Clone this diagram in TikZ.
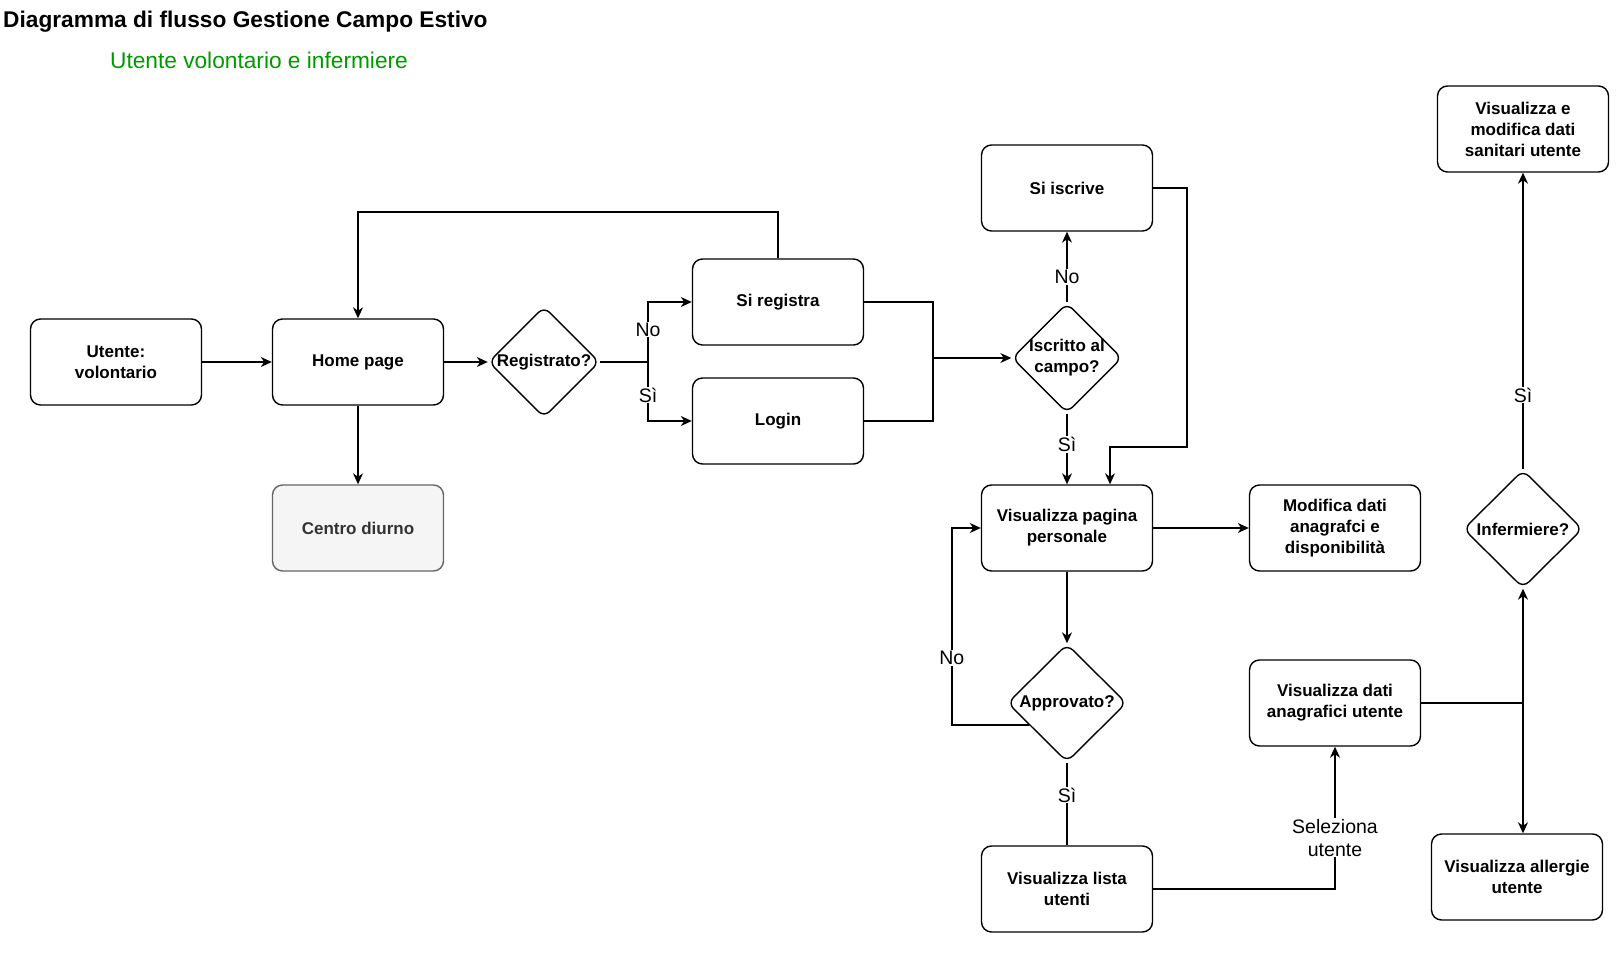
\documentclass[tikz,border=0pt]{standalone}
\usepackage{fontspec}
\setmainfont{Liberation Sans}
\usepackage{tikz}
\usepackage{xcolor}
\usetikzlibrary{shapes.geometric,arrows.meta,calc}
\definecolor{greyfillc}{HTML}{F5F5F5}
\definecolor{greydrawc}{HTML}{666666}
\definecolor{greytextc}{HTML}{333333}
\definecolor{subtitlec}{HTML}{009900}
\tikzstyle{flowbox} = [
    draw,
    rectangle,
    rounded corners=10pt,
    line width=1.4pt,
    minimum width=171pt,
    minimum height=86pt,
    inner sep=2pt,
    align=center,
    font=\fontsize{17}{21}\selectfont\bfseries
    ]
\tikzstyle{greybox} = [
    flowbox,
    fill=greyfillc,
    draw=greydrawc,
    text=greytextc
    ]
\tikzstyle{decision} = [
    draw,
    diamond,
    aspect=1,
    rounded corners=8pt,
    line width=1.4pt,
    inner sep=0pt,
    inner xsep=-12pt,
    minimum width=111pt,
    minimum height=111pt,
    align=center,
    font=\fontsize{17}{21}\selectfont\bfseries
    ]
\tikzstyle{flowline} = [
    line width=1.4pt,
    -{Stealth[length=11pt,width=10pt,inset=3.5pt]}
    ]
\tikzstyle{plainline} = [line width=1.4pt]
\tikzstyle{edgelabel} = [
    fill=white,
    inner sep=1pt,
    font=\fontsize{19.5}{23}\selectfont
    ]

\begin{document}
\begin{tikzpicture}[x=1pt,y=-1pt]
\useasboundingbox (0,0) rectangle (1618,957);

\node[anchor=west, inner sep=0pt, font=\fontsize{22.7}{27}\selectfont\bfseries] (title) at (3,22) {Diagramma di flusso Gestione Campo Estivo};
\node[inner sep=0pt, text=subtitlec, font=\fontsize{22.7}{27}\selectfont] (subtitle) at (259,60) {Utente volontario e infermiere};

\node[flowbox] (user) at (116,362) {Utente:\\volontario};
\node[flowbox] (home) at (358,362) {Home page};
\node[greybox] (centro) at (358,528) {Centro diurno};
\node[decision] (reg) at (544,362) {Registrato?};
\node[flowbox] (sireg) at (778,302) {Si registra};
\node[flowbox] (login) at (778,421) {Login};
\node[decision, minimum width=110pt, minimum height=110pt] (iscr) at (1067,358) {Iscritto al\\campo?};
\node[flowbox] (siiscr) at (1067,188) {Si iscrive};
\node[flowbox] (vispag) at (1067,528) {Visualizza pagina\\personale};
\node[flowbox] (moddati) at (1335,528) {Modifica dati\\anagrafci e\\disponibilità};
\node[decision, minimum width=119pt, minimum height=118pt] (approv) at (1067,703) {Approvato?};
\node[flowbox] (visdati) at (1335,703) {Visualizza dati\\anagrafici utente};
\node[flowbox] (lista) at (1067,889) {Visualizza lista\\utenti};
\node[flowbox] (sanitari) at (1523,129) {Visualizza e\\modifica dati\\sanitari utente};
\node[decision, minimum width=119pt, minimum height=118pt] (inferm) at (1523,529) {Infermiere?};
\node[flowbox] (allergie) at (1517,877) {Visualizza allergie\\utente};

\draw[flowline] (user.east) -- (home.west);
\draw[flowline] (home.east) -- (reg.west);
\draw[flowline] (home.south) -- (centro.north);

\coordinate (regsplit) at (648,362);
\draw[plainline] (reg.east) -- (regsplit);
\draw[flowline] (regsplit) |- node[edgelabel, pos=0.27] {No} (sireg.west);
\draw[flowline] (regsplit) |- node[edgelabel, pos=0.28] {Sì} (login.west);

\coordinate (backhome) at (358,212);
\draw[flowline] (sireg.north) |- (backhome) -- (home.north);

\coordinate (merge) at (933,358);
\draw[plainline] (sireg.east) -| (merge);
\draw[plainline] (login.east) -| (merge);
\draw[flowline] (merge) -- (iscr.west);

\draw[flowline] (iscr.north) -- node[edgelabel, pos=0.36] {No} (siiscr.south);
\draw[flowline] (iscr.south) -- node[edgelabel, pos=0.44] {Sì} (vispag.north);
\coordinate (iscrturn) at (1187,447);
\draw[flowline] (siiscr.east) -| (iscrturn) -| ([xshift=43pt]vispag.north);

\draw[flowline] (vispag.east) -- (moddati.west);
\draw[flowline] (vispag.south) -- (approv.north);
\draw[flowline] (approv.210) -| node[edgelabel, pos=0.67] {No} ([xshift=-29pt]vispag.west) -- (vispag.west);
\draw[plainline] (approv.south) -- node[edgelabel, pos=0.39] {Sì} (lista.north);
\draw[flowline] (lista.east) -| node[edgelabel, pos=0.68, align=center] {Seleziona\\utente} (visdati.south);

\coordinate (nursesplit) at (1523,703);
\draw[plainline] (visdati.east) -- (nursesplit);
\draw[flowline] (nursesplit) -- (inferm.south);
\draw[flowline] (nursesplit) -- (nursesplit |- allergie.north);
\draw[flowline] (inferm.north) -- node[edgelabel, pos=0.25] {Sì} (sanitari.south);
\end{tikzpicture}
\end{document}
